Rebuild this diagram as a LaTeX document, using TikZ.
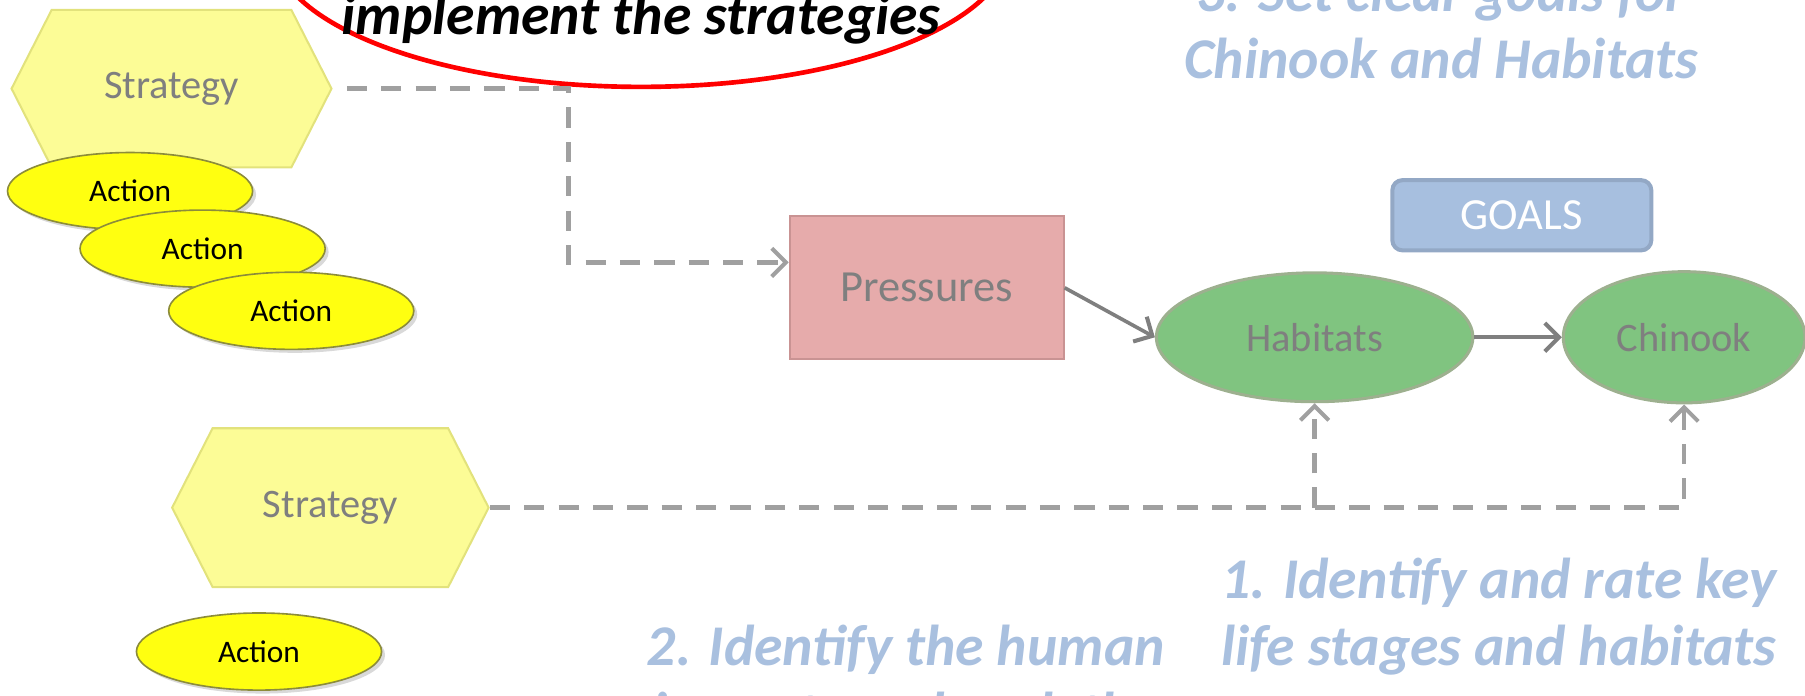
\documentclass[tikz,border=0pt]{standalone}
\usepackage{fontspec}
\setmainfont{Carlito}
\usetikzlibrary{shapes.geometric, shapes.symbols, arrows.meta, shadows}
\definecolor{stratfill}{HTML}{FCFC96}
\definecolor{stratdraw}{HTML}{E2E27C}
\definecolor{actfill}{HTML}{FFFF10}
\definecolor{actdraw}{HTML}{8C8C3A}
\definecolor{habfill}{HTML}{80C480}
\definecolor{habdraw}{HTML}{9DB08F}
\definecolor{pressfill}{HTML}{E6ABAB}
\definecolor{pressdraw}{HTML}{C99393}
\definecolor{goalfill}{HTML}{A7BFDF}
\definecolor{goaldraw}{HTML}{93A8C5}
\definecolor{notecol}{HTML}{A9C0DF}
\definecolor{nodegray}{HTML}{7F7F7F}
\definecolor{linegray}{HTML}{A0A0A0}
\tikzstyle{strategy} = [signal, signal to=west and east, signal pointer angle=126, minimum width=5.56cm, minimum height=2.74cm, inner sep=0pt, fill=stratfill, draw=stratdraw, line width=1pt, text=nodegray, font=\fontsize{20}{24}\selectfont]
\tikzstyle{action} = [ellipse, minimum width=4.26cm, minimum height=1.34cm, inner sep=0pt, fill=actfill, draw=actdraw, line width=0.8pt, drop shadow={opacity=0.3, shadow xshift=0.06cm, shadow yshift=-0.06cm}, font=\fontsize{15.5}{18}\selectfont]
\tikzstyle{habitat} = [ellipse, minimum height=2.24cm, inner sep=0pt, fill=habfill, draw=habdraw, line width=1.5pt, text=nodegray, font=\fontsize{20}{24}\selectfont]
\tikzstyle{pressure} = [rectangle, minimum width=4.76cm, minimum height=2.48cm, fill=pressfill, draw=pressdraw, line width=1pt, text=nodegray, font=\fontsize{22}{26}\selectfont]
\tikzstyle{goalbox} = [rectangle, rounded corners=5pt, minimum width=4.5cm, minimum height=1.22cm, fill=goalfill, draw=goaldraw, line width=2pt, text=white, font=\fontsize{22}{26}\selectfont]
\tikzstyle{note} = [align=center, anchor=base, text=notecol, font=\fontsize{28.5}{33}\bfseries\itshape\selectfont]
\tikzstyle{dashline} = [linegray, line width=2.3pt, dash pattern=on 10pt off 7pt]
\tikzstyle{arrow} = [-{Straight Barb[length=7pt, width=14pt, line width=2pt]}]

\begin{document}
\begin{tikzpicture}[x=0.02cm, y=-0.02cm]
		\useasboundingbox (0,0) rectangle (1568,604);
		\clip (0,0) rectangle (1568,604);
		
		%左侧策略与行动
		\node (strat1) [strategy] at (149,77) {Strategy};
		\node (act1) [action] at (113,166) {Action};
		\node (act2) [action] at (176,216) {Action};
		\node (act3) [action] at (253,270) {Action};
		\node (strat2) [strategy, minimum width=5.5cm, minimum height=2.76cm] at (287,441) {Strategy};
		\node (act4) [action] at (225,566) {Action};
		
		%压力、栖息地与目标
		\node (press) [pressure] at (805,250) {Pressures};
		\node (hab) [habitat, minimum width=5.5cm] at (1142,293) {Habitats};
		\node (chin) [habitat, minimum width=4.2cm, minimum height=2.28cm] at (1463,293) {Chinook};
		\node (goals) [goalbox] at (1322,187) {GOALS};
		
		%说明文字
		\node (bubble) [ellipse, draw=red, line width=2.3pt, fill=white, minimum width=12.8cm, minimum height=4.9cm] at (557,-47) {};
		\node (implement) [note, text=black] at (557,30) {implement the strategies};
		\node (goalnote) [note] at (1252,68) {3. Set clear goals for\\Chinook and Habitats};
		\node (ratenote) [note] at (1302,578) {1. Identify and rate key\\life stages and habitats};
		\node (humannote) [note] at (787,636) {2. Identify the human\\impacts and rank the};
		
		%连接
		\draw [dashline, arrow, shorten <=7pt] (strat1.east) -- ++(205,0) |- ([yshift=0.44cm]press.west);
		\draw [dashline, arrow] (strat2.east) -| (chin.south);
		\draw [dashline, arrow] (hab.south |- strat2.east) -- (hab.south);
		\draw [nodegray, line width=1.8pt, arrow] (press.east) -- (hab.west);
		\draw [nodegray, line width=1.8pt, arrow] (hab.east) -- (chin.west);
	\end{tikzpicture}
\end{document}
